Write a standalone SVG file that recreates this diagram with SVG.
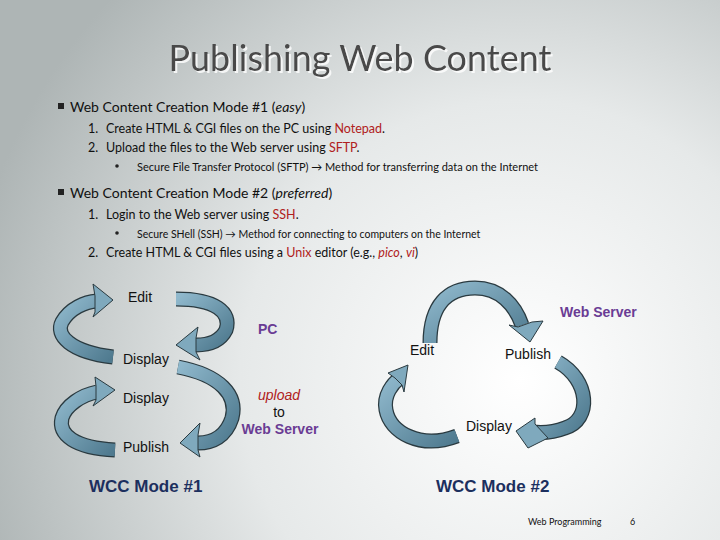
<svg xmlns="http://www.w3.org/2000/svg" width="720" height="540" viewBox="0 0 720 540">
<defs>
<radialGradient id="bg" cx="520" cy="380" r="560" gradientUnits="userSpaceOnUse">
<stop offset="0" stop-color="#ffffff"/><stop offset="0.5" stop-color="#e6e9e9"/><stop offset="1" stop-color="#aeb5b5"/>
</radialGradient>
<linearGradient id="ar" x1="0" y1="0" x2="1" y2="1"><stop offset="0" stop-color="#8fb8cc"/><stop offset="1" stop-color="#4f7a8f"/></linearGradient>
<filter id="sh" x="-5%" y="-20%" width="110%" height="140%"><feDropShadow dx="2" dy="2" stdDeviation="0.5" flood-color="#ffffff" flood-opacity="0.8"/></filter>
<style>
.t{font-family:Lato,"Open Sans",sans-serif;fill:#111}
.a{font-family:"Liberation Sans",Arial,sans-serif;fill:#111;font-size:14px}
.p{font-family:"Liberation Sans",Arial,sans-serif;fill:#6a3c94;font-size:14px;font-weight:bold}
.w{font-family:"Liberation Sans",Arial,sans-serif;fill:#1c2f5e;font-size:17px;font-weight:bold}
.r{fill:#b02020}
.band{fill:none;stroke:#2a3a40;stroke-width:15}
.bandi{fill:none;stroke:url(#ar);stroke-width:12.5}
.head{fill:#7fa9bd;stroke:#2a3a40;stroke-width:1}
</style>
</defs>
<rect width="720" height="540" fill="url(#bg)"/>
<text x="360" y="71" text-anchor="middle" font-family="Lato,'Open Sans',sans-serif" font-size="36" fill="#4a4a4a" filter="url(#sh)">Publishing Web Content</text>
<g id="text">
<rect x="58" y="103" width="6" height="6" fill="#222"/>
<text class="t" x="70" y="112" font-size="14">Web Content Creation Mode #1  (<tspan font-style="italic">easy</tspan>)</text>
<text class="t" x="88" y="133" font-size="12.5">1.</text>
<text class="t" x="106" y="133" font-size="12.5">Create HTML &amp; CGI files on the PC using <tspan class="r">Notepad</tspan>.</text>
<text class="t" x="88" y="152" font-size="12.5">2.</text>
<text class="t" x="106" y="152" font-size="12.5">Upload the files to the Web server using <tspan class="r">SFTP</tspan>.</text>
<circle cx="117" cy="166" r="1.8" fill="#222"/>
<text class="t" x="137" y="171" font-size="11">Secure File Transfer Protocol (SFTP) → Method for transferring data on the Internet</text>
<rect x="58" y="189" width="6" height="6" fill="#222"/>
<text class="t" x="70" y="198" font-size="14">Web Content Creation Mode #2  (<tspan font-style="italic">preferred</tspan>)</text>
<text class="t" x="88" y="219" font-size="12.5">1.</text>
<text class="t" x="106" y="219" font-size="12.5">Login to the Web server using <tspan class="r">SSH</tspan>.</text>
<circle cx="117" cy="233" r="1.8" fill="#222"/>
<text class="t" x="137" y="238" font-size="10.5">Secure SHell (SSH) → Method for connecting to computers on the Internet</text>
<text class="t" x="88" y="257" font-size="12.5">2.</text>
<text class="t" x="106" y="257" font-size="12.5">Create HTML &amp; CGI files using a <tspan class="r">Unix</tspan> editor (e.g., <tspan class="r" font-style="italic">pico</tspan>, <tspan class="r" font-style="italic">vi</tspan>)</text>
</g>
<g id="connectors">
<path class="band" d="M113,357 C70,352 55,335 62,322 C70,308 85,302 97,301"/>
<path class="bandi" d="M113,357 C70,352 55,335 62,322 C70,308 85,302 97,301"/>
<polygon class="head" points="113,300 93,284 95,296 95,312 93,317"/>
<path class="band" d="M176,299 C215,299 232,312 226,330 C220,342 208,345 196,345"/>
<path class="bandi" d="M176,299 C215,299 232,312 226,330 C220,342 208,345 196,345"/>
<polygon class="head" points="176,345 198,327 196,338 196,352 200,360"/>
<path class="band" d="M178,367 C220,375 238,395 232,418 C226,437 212,443 198,443"/>
<path class="bandi" d="M178,367 C220,375 238,395 232,418 C226,437 212,443 198,443"/>
<polygon class="head" points="180,443 200,423 198,435 198,450 200,457"/>
<path class="band" d="M115,450 C75,448 58,435 62,418 C66,405 82,395 97,392"/>
<path class="bandi" d="M115,450 C75,448 58,435 62,418 C66,405 82,395 97,392"/>
<polygon class="head" points="115,390 95,377 96,386 96,400 93,406"/>
<path class="band" d="M430,343 C430,305 448,288 475,288 C500,288 515,305 522,325"/>
<path class="bandi" d="M430,343 C430,305 448,288 475,288 C500,288 515,305 522,325"/>
<polygon class="head" points="530,342 509,325 518,327 532,322 543,321"/>
<path class="band" d="M558,362 C590,380 592,420 565,428 C552,433 540,433 532,432"/>
<path class="bandi" d="M558,362 C590,380 592,420 565,428 C552,433 540,433 532,432"/>
<polygon class="head" points="516,431 535,418 535,424 548,438 528,448"/>
<path class="band" d="M457,436 C420,450 390,432 386,410 C383,395 393,383 400,378"/>
<path class="bandi" d="M457,436 C420,450 390,432 386,410 C383,395 393,383 400,378"/>
<polygon class="head" points="408,365 388,373 395,378 402,385 404,392"/>
</g>
<g id="left">
<text class="a" x="128" y="302">Edit</text>
<text class="a" x="123" y="364">Display</text>
<text class="a" x="123" y="403">Display</text>
<text class="a" x="123" y="452">Publish</text>
<text class="p" x="258" y="334">PC</text>
<text x="279" y="400" text-anchor="middle" font-family="'Liberation Sans',Arial,sans-serif" font-size="14" font-style="italic" fill="#b02020">upload</text>
<text class="a" x="279" y="417" text-anchor="middle">to</text>
<text class="p" x="280" y="434" text-anchor="middle">Web Server</text>
<text class="w" x="89" y="492">WCC Mode #1</text>
</g>
<g id="right">
<text class="p" x="560" y="317">Web Server</text>
<text class="a" x="410" y="355">Edit</text>
<text class="a" x="505" y="359">Publish</text>
<text class="a" x="466" y="431">Display</text>
<text class="w" x="436" y="492">WCC Mode #2</text>
</g>
<text class="t" x="528" y="525" font-size="9">Web Programming</text>
<text class="t" x="630" y="525" font-size="9">6</text>
</svg>
